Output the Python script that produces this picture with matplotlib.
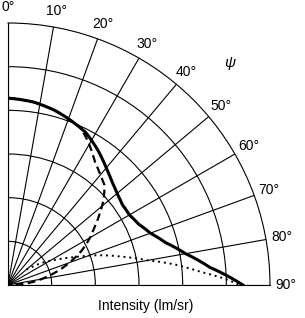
import numpy as np
import matplotlib
matplotlib.use("Agg")
import matplotlib.pyplot as plt

plt.rcParams.update({
    "font.family": ["Liberation Sans", "DejaVu Sans"],
    "font.size": 10,
})

# ── data (angle in degrees, intensity in grid units) ──────────────────────────
solid_ang = [0, 8, 15, 20, 27, 34, 40, 45, 50, 55, 60, 65, 70, 75, 80, 85, 90]
solid_int = [4.28, 4.23, 4.14, 4.05, 3.92, 3.70, 3.50, 3.36, 3.26, 3.20, 3.21,
             3.30, 3.47, 3.74, 4.13, 4.64, 5.38]

dash_ang = [0, 8, 15, 20, 25, 30, 35, 40, 44, 48, 52, 56, 60, 65, 69, 73, 78, 83, 90]
dash_int = [4.28, 4.23, 4.14, 4.05, 3.96, 3.72, 3.46, 3.29, 3.18, 2.95, 2.67,
            2.40, 2.17, 1.86, 1.57, 1.28, 0.91, 0.58, 0.0]

dot_ang = [50, 52, 57, 62, 67, 72, 76, 80, 83, 86, 88.5, 90]
dot_int = [0.55, 0.64, 0.93, 1.22, 1.62, 2.20, 2.68, 3.25, 3.85, 4.40, 5.00, 5.31]

tick_deg = list(range(0, 100, 10))
tick_lbl = [f"{d}°" for d in tick_deg]
r_grid = [1, 2, 3, 4, 5]
R_MAX = 6

# ── figure ────────────────────────────────────────────────────────────────────
fig = plt.figure(figsize=(3.05, 3.18), dpi=100)
ax = fig.add_axes([8 / 305, 1 - 285 / 318, 262 / 305, 262 / 318], projection="polar")
ax.set_theta_zero_location("N")
ax.set_theta_direction(-1)
ax.set_thetamin(0)
ax.set_thetamax(90)
ax.set_rlim(0, R_MAX)

ax.set_rticks(r_grid)
ax.set_yticklabels([])
ax.set_xticks(np.deg2rad(tick_deg))
ax.set_xticklabels([])
ax.tick_params(axis="y", length=0)
ax.tick_params(axis="x", direction="out", length=4, width=0.8, color="black")
ax.grid(True, color="black", lw=0.8)
for sp in ax.spines.values():
    sp.set_color("black")
    sp.set_linewidth(0.8)

curves = [
    (solid_ang, solid_int, dict(lw=2.2, linestyle="-")),
    (dash_ang, dash_int, dict(lw=1.6, linestyle=(0, (3.5, 2)))),
    (dot_ang, dot_int, dict(lw=1.4, linestyle=(0, (1, 2)))),
]
for ang, val, kw in curves:
    line, = ax.plot(np.deg2rad(ang), val, color="black", **kw)
    # follow arcs in polar space between the read points
    line.get_path()._interpolation_steps = 12

for d, lbl in zip(tick_deg, tick_lbl):
    ax.text(np.deg2rad(d), 6.36, lbl, ha="center", va="center", fontsize=10)

ax.text(np.deg2rad(45), 7.18, "ψ", ha="center", va="center", fontsize=11, style="italic")

fig.text(146 / 305, 1 - 306 / 318, "Intensity (lm/sr)", ha="center", va="center", fontsize=10)

fig.savefig("out.png", dpi=100)
